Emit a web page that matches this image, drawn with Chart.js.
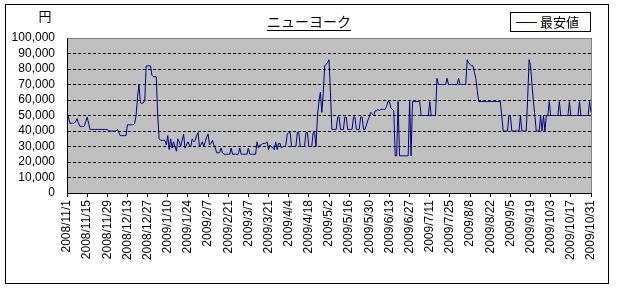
<!DOCTYPE html>
<html>
<head>
<meta charset="utf-8">
<script src="https://cdn.jsdelivr.net/npm/chart.js@4.4.1/dist/chart.umd.min.js"></script>
<style>
  html, body { margin: 0; padding: 0; background: #fff; }
  #wrap { width: 617px; height: 290px; }
</style>
</head>
<body>
<div id="wrap"><canvas id="chart" width="617" height="290"></canvas></div>
<script>
const chartTitle = "ニューヨーク";
const unitLabel = "円";
const seriesName = "最安値";

const tickLabels = [
  "2008/11/1", "2008/11/15", "2008/11/29", "2008/12/13", "2008/12/27",
  "2009/1/10", "2009/1/24", "2009/2/7", "2009/2/21", "2009/3/7",
  "2009/3/21", "2009/4/4", "2009/4/18", "2009/5/2", "2009/5/16",
  "2009/5/30", "2009/6/13", "2009/6/27", "2009/7/11", "2009/7/25",
  "2009/8/8", "2009/8/22", "2009/9/5", "2009/9/19", "2009/10/3",
  "2009/10/17", "2009/10/31"
];

const yMin = 0;
const yMax = 100000;
const yStep = 10000;

// daily lowest price, one row per week starting 2008/11/1
const lowestPrice = [
  51000, 49000, 45000, 45000, 45000, 45000, 46000,
  48000, 45000, 43000, 43000, 43000, 43000, 46000,
  49000, 45000, 41000, 41000, 41000, 41000, 41000,
  41000, 41000, 41000, 41000, 41000, 41000, 41000,
  41000, 40000, 40000, 40000, 40000, 40000, 40000,
  41000, 39000, 37000, 37000, 37000, 37000, 37000,
  44000, 44000, 44000, 44000, 44000, 45000, 50000,
  62000, 70000, 58000, 58000, 58000, 60000, 82000,
  82000, 82000, 82000, 76000, 75000, 75000, 75000,
  50000, 35000, 34000, 34000, 34000, 34000, 31000,
  37000, 28000, 35000, 29000, 33000, 30000, 27000,
  35000, 33000, 30000, 34000, 38000, 29000, 31000,
  33000, 31000, 30000, 35000, 33000, 34000, 37000,
  39000, 30000, 31000, 33000, 30000, 33000, 36000,
  38000, 31000, 32000, 34000, 31000, 29000, 26000,
  26000, 26000, 29000, 26000, 25000, 25000, 25000,
  25000, 25000, 29000, 25000, 25000, 25000, 25000,
  25000, 29000, 25000, 25000, 25000, 25000, 25000,
  29000, 25000, 25000, 25000, 25000, 25000, 33000,
  29000, 31000, 31000, 32000, 32000, 32000, 33000,
  28000, 31000, 30000, 29000, 28000, 33000, 28000,
  32000, 32000, 29000, 30000, 30000, 31000, 38000,
  39000, 39000, 30000, 30000, 30000, 30000, 39000,
  39000, 30000, 30000, 30000, 30000, 39000, 39000,
  30000, 30000, 30000, 39000, 39000, 30000, 50000,
  59000, 65000, 52000, 64000, 82000, 83000, 84000,
  86000, 65000, 41000, 41000, 41000, 41000, 49000,
  49000, 41000, 41000, 41000, 49000, 49000, 41000,
  41000, 41000, 41000, 49000, 49000, 41000, 41000,
  41000, 49000, 49000, 41000, 41000, 44000, 47000,
  49000, 52000, 51000, 50000, 53000, 53000, 54000,
  53000, 54000, 54000, 54000, 54000, 56000, 59000,
  59000, 55000, 54000, 53000, 24000, 24000, 59000,
  24000, 24000, 24000, 24000, 24000, 24000, 24000,
  59000, 24000, 59000, 59000, 59000, 59000, 59000,
  59000, 50000, 50000, 50000, 50000, 50000, 50000,
  59000, 50000, 50000, 50000, 50000, 74000, 70000,
  70000, 70000, 70000, 70000, 70000, 74000, 70000,
  70000, 70000, 70000, 70000, 70000, 70000, 74000,
  70000, 70000, 70000, 70000, 70000, 86000, 84000,
  83000, 82000, 82000, 78000, 74000, 66000, 59000,
  59000, 59000, 59000, 59000, 59000, 59000, 59000,
  59000, 59000, 59000, 59000, 59000, 59000, 59000,
  59000, 50000, 40000, 40000, 40000, 40000, 50000,
  50000, 40000, 40000, 40000, 40000, 40000, 40000,
  50000, 40000, 40000, 40000, 40000, 61000, 86000,
  82000, 70000, 59000, 50000, 40000, 40000, 40000,
  50000, 40000, 50000, 40000, 50000, 50000, 59000,
  50000, 50000, 50000, 50000, 50000, 50000, 59000,
  50000, 50000, 50000, 50000, 50000, 50000, 59000,
  50000, 50000, 50000, 50000, 50000, 50000, 59000,
  50000, 50000, 50000, 50000, 50000, 50000, 59000,
  52000
];

// one category per day
const days = [];
for (let i = 0; i < lowestPrice.length; i++) {
  const d = new Date(2008, 10, 1 + i);
  days.push(d.getFullYear() + "/" + (d.getMonth() + 1) + "/" + d.getDate());
}

const numFont = "'Liberation Sans', Arial, sans-serif";
const jpFont = "'Noto Sans CJK JP', sans-serif";

const excelFrame = {
  id: "excelFrame",
  beforeDraw(chart) {
    const { ctx, chartArea: a } = chart;
    ctx.save();
    ctx.fillStyle = "#fff";
    ctx.fillRect(0, 0, chart.width, chart.height);
    ctx.fillStyle = "#c0c0c0";
    ctx.fillRect(a.left, a.top, a.right - a.left, a.bottom - a.top);
    ctx.strokeStyle = "#808080";
    ctx.lineWidth = 1;
    ctx.strokeRect(Math.round(a.left) + 0.5, Math.round(a.top) + 0.5,
      Math.round(a.right - a.left), Math.round(a.bottom - a.top));
    ctx.restore();
  },
  afterDraw(chart) {
    const { ctx } = chart;
    ctx.save();
    // outer border
    ctx.strokeStyle = "#000";
    ctx.lineWidth = 1;
    ctx.strokeRect(5.5, 4.5, 603, 279);

    // unit label
    ctx.fillStyle = "#000";
    ctx.font = "13px " + jpFont;
    ctx.textAlign = "center";
    ctx.textBaseline = "middle";
    ctx.fillText(unitLabel, 45, 16);

    // title with underline
    ctx.font = "14px " + jpFont;
    ctx.fillText(chartTitle, 309, 22);
    const w = ctx.measureText(chartTitle).width;
    ctx.beginPath();
    ctx.moveTo(309 - w / 2, 30.5);
    ctx.lineTo(309 + w / 2, 30.5);
    ctx.stroke();

    // legend box
    ctx.strokeRect(510.5, 12.5, 80, 19);
    ctx.strokeStyle = "#000080";
    ctx.beginPath();
    ctx.moveTo(516, 22.5);
    ctx.lineTo(537, 22.5);
    ctx.stroke();
    ctx.font = "13px " + jpFont;
    ctx.textAlign = "left";
    ctx.fillText(seriesName, 540, 22);
    ctx.restore();
  }
};

new Chart(document.getElementById("chart"), {
  type: "line",
  data: {
    labels: days,
    datasets: [{
      label: seriesName,
      data: lowestPrice,
      borderColor: "#000080",
      borderWidth: 1,
      pointRadius: 0,
      tension: 0,
      fill: false
    }]
  },
  options: {
    responsive: false,
    animation: false,
    layout: { padding: { left: 0, right: 26, top: 38, bottom: 0 } },
    plugins: {
      legend: { display: false },
      title: { display: false },
      tooltip: { enabled: false }
    },
    scales: {
      x: {
        offset: false,
        afterFit(scale) { scale.height = 97; },
        border: { display: true, color: "#000", width: 1 },
        grid: {
          drawOnChartArea: false,
          drawTicks: true,
          tickLength: 4,
          color: "rgba(0,0,0,0)",
          tickColor: (c) => (tickLabels.includes(days[c.index]) ? "#000" : "rgba(0,0,0,0)")
        },
        ticks: {
          autoSkip: false,
          minRotation: 90,
          maxRotation: 90,
          padding: 3,
          color: "#000",
          font: { family: numFont, size: 12 },
          callback(v) {
            const l = this.getLabelForValue(v);
            return tickLabels.includes(l) ? l : "";
          }
        }
      },
      y: {
        min: yMin,
        max: yMax,
        afterFit(scale) { scale.width = 67; },
        border: { display: true, color: "#000", width: 1, dash: [3, 2] },
        grid: {
          drawTicks: false,
          color: (c) => (c.tick && (c.tick.value === yMin || c.tick.value === yMax) ? "rgba(0,0,0,0)" : "#000")
        },
        ticks: {
          stepSize: yStep,
          autoSkip: false,
          padding: 12,
          color: "#000",
          font: { family: numFont, size: 12 },
          callback: (v) => v.toLocaleString("en-US")
        }
      }
    }
  },
  plugins: [excelFrame]
});
</script>
</body>
</html>
